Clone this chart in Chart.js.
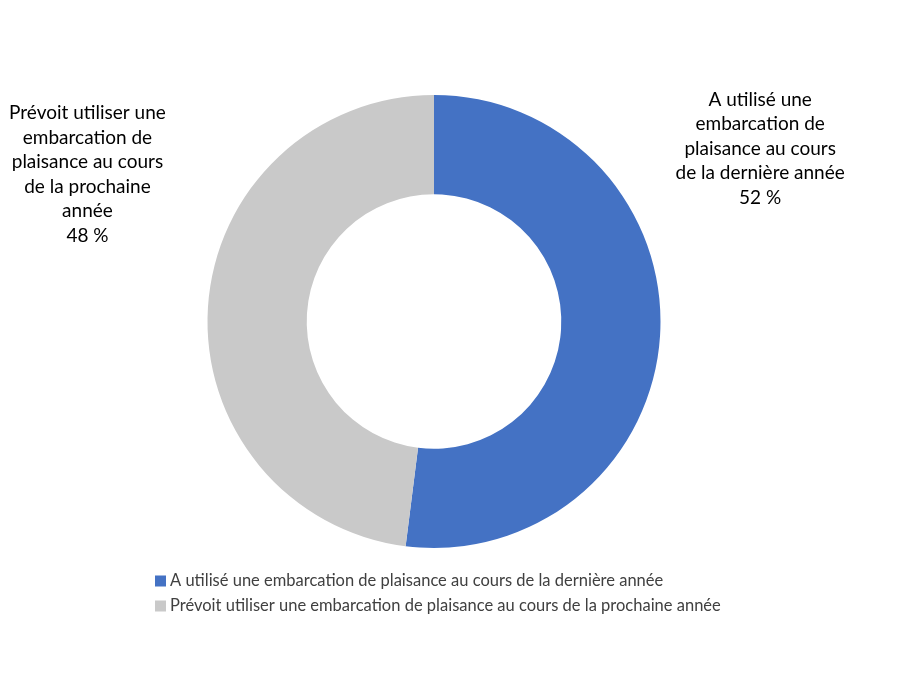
<!DOCTYPE html>
<html lang="fr">
<head>
<meta charset="utf-8">
<title>Embarcations de plaisance</title>
<script src="https://cdn.jsdelivr.net/npm/chart.js@4.4.1/dist/chart.umd.min.js"></script>
<style>
    html, body { margin: 0; padding: 0; background: #ffffff; }
    #wrap { width: 900px; height: 675px; }
</style>
</head>
<body>
<div id="wrap"><canvas id="boatChart" width="900" height="675"></canvas></div>
<script>
const categories = [
    'A utilisé une embarcation de plaisance au cours de la dernière année',
    'Prévoit utiliser une embarcation de plaisance au cours de la prochaine année',
];
const sliceLabels = [
    ['A utilisé une', 'embarcation de', 'plaisance au cours', 'de la dernière année'],
    ['Prévoit utiliser une', 'embarcation de', 'plaisance au cours', 'de la prochaine', 'année'],
];
const shares = [52, 48];

const COLORS = {
    blue: '#4472C4',
    grey: '#C9C9C9',
    text: '#000000',
    legendText: '#404040',
};

const FONT = 'Lato, "Open Sans", sans-serif';

// labels sit outside the ring, placed relative to its centre and radius
const sliceLabelPlugin = {
    id: 'sliceLabels',
    afterDatasetsDraw(chart) {
        const ctx = chart.ctx;
        const arcs = chart.getDatasetMeta(0).data;
        if (!arcs.length) {
            return;
        }
        const { x: cx, y: cy, outerRadius: r } = arcs[0];
        const anchors = [
            { x: cx + r * 1.44, y: cy - r * 0.98 },
            { x: cx - r * 1.53, y: cy - r * 0.92 },
        ];
        ctx.save();
        ctx.fillStyle = COLORS.text;
        ctx.font = `19px ${FONT}`;
        ctx.textAlign = 'center';
        ctx.textBaseline = 'middle';
        arcs.forEach((arc, i) => {
            const lines = [...sliceLabels[i], `${shares[i]} %`];
            lines.forEach((line, j) => {
                ctx.fillText(line, anchors[i].x, anchors[i].y + j * 24.5);
            });
        });
        ctx.restore();
    },
};

const bottomLegendPlugin = {
    id: 'bottomLegend',
    afterDraw(chart) {
        const ctx = chart.ctx;
        const colors = chart.data.datasets[0].backgroundColor;
        ctx.save();
        ctx.font = `16.5px ${FONT}`;
        ctx.textAlign = 'left';
        ctx.textBaseline = 'middle';
        categories.forEach((label, i) => {
            const y = 581 + i * 25;
            ctx.fillStyle = colors[i];
            ctx.fillRect(155, y - 5.5, 11, 11);
            ctx.fillStyle = COLORS.legendText;
            ctx.fillText(label, 170, y);
        });
        ctx.restore();
    },
};

new Chart(document.getElementById('boatChart'), {
    type: 'doughnut',
    data: {
        labels: categories,
        datasets: [{
            data: shares,
            backgroundColor: [COLORS.blue, COLORS.grey],
            borderWidth: 0,
        }],
    },
    options: {
        responsive: false,
        animation: false,
        cutout: '56.2%',
        layout: {
            padding: { left: 207, right: 239, top: 95, bottom: 127 },
        },
        plugins: {
            legend: { display: false },
            tooltip: { enabled: false },
        },
    },
    plugins: [sliceLabelPlugin, bottomLegendPlugin],
});
</script>
</body>
</html>
